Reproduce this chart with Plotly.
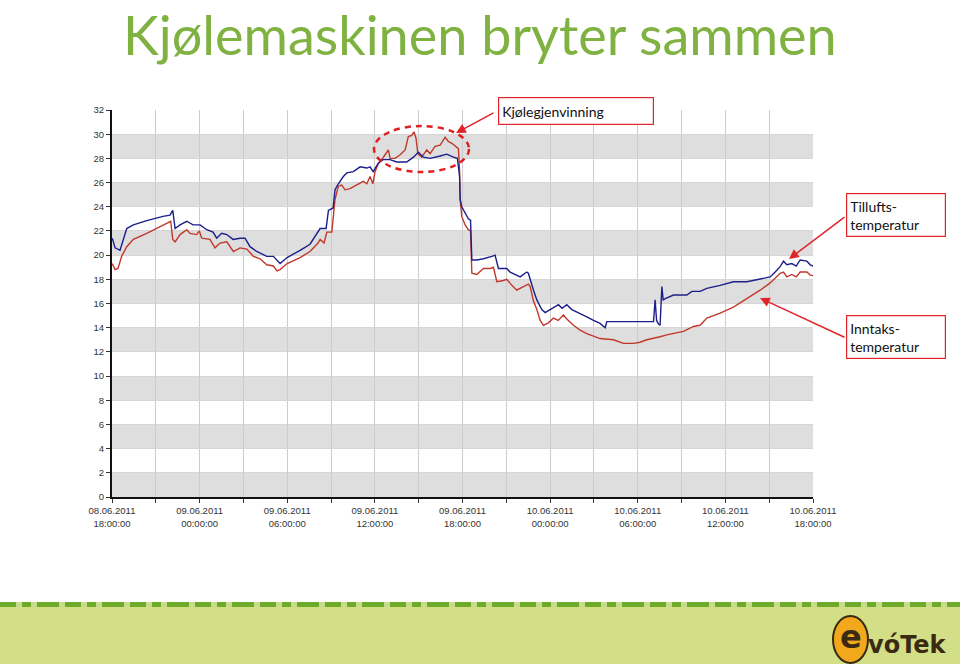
import pandas as pd
import plotly.graph_objects as go

# ---------------- data ----------------
start = "2011-06-08 18:00:00"

tilluft_h = [0.02, 0.21, 0.55, 1.01, 1.46, 2.38, 3.49, 3.97, 4.16, 4.32, 4.66, 5.12, 5.55, 6.03, 6.49,
             6.92, 7.17, 7.51, 7.86, 8.29, 8.77, 9.11, 9.45, 9.91, 10.60, 11.05, 11.51, 11.99, 12.88,
             13.56, 14.25, 14.66, 14.82, 15.14, 15.27, 15.50, 15.84, 16.08, 16.53, 16.99, 17.45, 17.67,
             17.88, 18.24, 18.56, 19.04, 19.50, 20.18, 20.64, 20.98, 21.32, 21.78, 22.47, 22.92, 23.38,
             23.65, 23.80, 23.84, 23.95, 24.18, 24.40, 24.55, 24.64, 24.98, 25.43, 26.01, 26.23, 26.46,
             27.03, 27.26, 27.72, 27.95, 28.40, 28.51, 28.86, 29.09, 29.43, 29.66, 30.00, 30.34, 30.57,
             30.82, 31.14, 31.49, 32.05, 32.51, 32.97, 33.42, 33.77, 33.88, 34.79, 35.71, 36.62, 37.08,
             37.19, 37.29, 37.42, 37.53, 37.65, 37.74, 37.88, 38.45, 39.36, 39.71, 40.27, 40.73, 41.64,
             42.55, 43.47, 44.38, 45.07, 45.41, 45.75, 45.98, 46.21, 46.55, 46.85, 47.12, 47.58, 47.81,
             48.0]
tilluft_v = [21.4, 20.6, 20.4, 22.2, 22.5, 22.85, 23.2, 23.3, 23.7, 22.2, 22.5, 22.8, 22.5, 22.5, 22.1,
             21.9, 21.4, 21.8, 21.7, 21.3, 21.4, 21.4, 20.7, 20.3, 19.9, 19.9, 19.3, 19.8, 20.4,
             20.9, 22.2, 22.2, 23.7, 23.9, 25.4, 25.9, 26.5, 26.8, 26.9, 27.3, 27.2, 27.3,
             26.9, 27.6, 27.9, 27.9, 27.7, 27.7, 28.1, 28.5, 28.1, 28.0, 28.2, 28.35, 28.1,
             28.0, 26.5, 24.6, 24.0, 23.5, 23.0, 22.9, 19.6, 19.6, 19.7, 19.9, 20.0, 18.9,
             18.9, 18.6, 18.35, 18.2, 18.6, 18.5, 17.1, 16.3, 15.5, 15.25, 15.5, 15.7, 15.9,
             15.6, 15.9, 15.5, 15.2, 14.9, 14.6, 14.35, 14.0, 14.5, 14.5, 14.5, 14.55, 14.5,
             16.3, 14.6, 14.3, 14.2, 17.4, 16.3, 16.4, 16.7, 16.7, 17.0, 17.0, 17.25, 17.5,
             17.8, 17.8, 18.0, 18.2, 18.6, 19.05, 19.5, 19.2, 19.3, 19.1, 19.6, 19.5, 19.2,
             19.1]

inntak_h = [0.02, 0.21, 0.41, 0.66, 1.01, 1.46, 2.38, 3.49, 4.02, 4.16, 4.32, 4.66, 5.12, 5.34, 5.80,
            5.98, 6.14, 6.71, 7.05, 7.40, 7.86, 8.31, 8.77, 9.23, 9.68, 10.14, 10.60, 11.05, 11.30,
            11.51, 11.99, 12.88, 13.56, 14.11, 14.25, 14.52, 14.71, 15.05, 15.27, 15.50, 15.73, 15.96,
            16.30, 16.76, 17.21, 17.45, 17.67, 17.86, 18.01, 18.24, 18.47, 18.70, 18.92, 19.04, 19.38,
            19.73, 20.07, 20.29, 20.53, 20.68, 20.82, 20.94, 21.21, 21.55, 21.78, 22.12, 22.47, 22.81,
            23.03, 23.27, 23.49, 23.72, 23.80, 23.84, 23.95, 24.18, 24.40, 24.55, 24.64, 24.98, 25.43,
            25.89, 26.12, 26.35, 26.80, 27.03, 27.38, 27.72, 28.01, 28.40, 28.51, 28.63, 28.86, 29.09,
            29.32, 29.54, 29.88, 30.23, 30.55, 30.91, 31.16, 31.60, 32.05, 32.51, 33.42, 34.34, 35.02,
            35.71, 36.16, 36.62, 37.08, 37.53, 37.99, 38.45, 39.13, 39.82, 40.27, 40.73, 41.64, 42.55,
            43.47, 44.38, 45.07, 45.41, 45.75, 45.98, 46.21, 46.55, 46.85, 47.12, 47.58, 47.81, 48.0]
inntak_v = [19.3, 18.8, 18.9, 19.9, 20.7, 21.3, 21.8, 22.5, 22.8, 21.3, 21.1, 21.7, 22.1, 21.8, 21.7,
            22.0, 21.4, 21.3, 20.6, 21.0, 21.1, 20.3, 20.6, 20.5, 19.9, 19.7, 19.2, 19.1, 18.7,
            18.8, 19.3, 19.8, 20.3, 21.0, 21.3, 21.0, 21.9, 21.9, 24.6, 25.7, 25.8, 25.4,
            25.5, 25.8, 26.1, 25.9, 26.5, 25.9, 26.9, 27.6, 27.9, 28.3, 28.7, 28.0, 28.0,
            28.3, 28.7, 29.8, 29.9, 30.2, 29.65, 28.4, 28.1, 28.7, 28.4, 29.0, 29.1, 29.75,
            29.4, 29.25, 29.0, 28.8, 27.0, 24.6, 23.2, 22.5, 22.1, 22.0, 18.5, 18.4, 18.9,
            18.9, 19.0, 17.8, 17.9, 18.0, 17.5, 17.1, 17.3, 17.5, 17.6, 17.4, 16.2, 15.5,
            14.6, 14.2, 14.4, 14.8, 14.6, 15.05, 14.7, 14.2, 13.8, 13.5, 13.1, 13.0, 12.7,
            12.7, 12.8, 13.0, 13.1, 13.25, 13.4, 13.5, 13.7, 14.1, 14.2, 14.8, 15.2, 15.7,
            16.4, 17.1, 17.7, 18.1, 18.5, 18.6, 18.2, 18.4, 18.2, 18.6, 18.6, 18.35, 18.3]

band_lows = [0, 4, 8, 12, 16, 20, 24, 28]
band_height = 2
y_range = [0, 32]
title_text = "Kjølemaskinen bryter sammen"
label_top = "Kjølegjenvinning"
label_tilluft = "Tillufts-<br>temperatur"
label_inntak = "Inntaks-<br>temperatur"

# ---------------- figure ----------------
t0 = pd.Timestamp(start)
tx_blue = t0 + pd.to_timedelta(tilluft_h, unit="h")
tx_red = t0 + pd.to_timedelta(inntak_h, unit="h")
t_end = t0 + pd.Timedelta(hours=48)

W, H = 960, 664
ML, MR, MT, MB = 112, 147, 110, 167
PW, PH = W - ML - MR, H - MT - MB


def px(x):
    return (x - ML) / PW


def py(y):
    return (H - MB - y) / PH


fig = go.Figure()
fig.add_trace(go.Scatter(x=tx_red, y=inntak_v, mode="lines", name="Inntak",
                         line=dict(color="#c0392b", width=1.4)))
fig.add_trace(go.Scatter(x=tx_blue, y=tilluft_v, mode="lines", name="Tilluft",
                         line=dict(color="#1c1f8a", width=1.4)))

shapes = []
for lo in band_lows:
    shapes.append(dict(type="rect", xref="paper", yref="y", x0=0, x1=1, y0=lo, y1=lo + band_height,
                       fillcolor="#dedede", line=dict(width=0), layer="below"))
# dashed ellipse
shapes.append(dict(type="circle", xref="paper", yref="paper", x0=px(374), x1=px(469), y0=py(172), y1=py(126),
                   line=dict(color="#e02020", width=2.5, dash="6px,5px")))
# footer band
shapes.append(dict(type="rect", xref="paper", yref="paper", x0=px(0), x1=px(960), y0=py(664), y1=py(607),
                   fillcolor="#d3df86", line=dict(width=0), layer="below"))
shapes.append(dict(type="line", xref="paper", yref="paper", x0=px(0), x1=px(960), y0=py(604.5), y1=py(604.5),
                   line=dict(color="#c5dd8a", width=5), layer="below"))
shapes.append(dict(type="line", xref="paper", yref="paper", x0=px(0), x1=px(960), y0=py(604.5), y1=py(604.5),
                   line=dict(color="#6fab2a", width=5, dash="16px,6px,9px,6px,22px,6px"), layer="below"))
# logo circle
shapes.append(dict(type="circle", xref="paper", yref="paper", x0=px(833), x1=px(868), y0=py(663), y1=py(616),
                   fillcolor="#f2a81d", line=dict(color="#3b2a12", width=2)))

annotations = []
annotations.append(dict(text=title_text, xref="paper", yref="paper", x=px(480), y=py(0),
                        xanchor="center", yanchor="top", showarrow=False,
                        font=dict(family="Lato", size=54, color="#7fb241")))


def box(text, cx, cy, w, h):
    return dict(text=text, xref="paper", yref="paper", x=px(cx), y=py(cy), xanchor="center", yanchor="middle",
                showarrow=False, align="left", width=w, height=h, bgcolor="white",
                bordercolor="#e0242a", borderwidth=1.2, borderpad=3,
                font=dict(family="Lato", size=14, color="#111"))


def arrow(x0, y0, x1, y1):
    return dict(text="", xref="paper", yref="paper", x=px(x1), y=py(y1), ax=x0 - x1, ay=y0 - y1,
                axref="pixel", ayref="pixel", showarrow=True, arrowhead=2, arrowsize=1.3, arrowwidth=1.5,
                arrowcolor="#e0242a", standoff=0)


annotations.append(box(label_top, 575.5, 111, 148, 20))
annotations.append(box(label_tilluft, 896, 214.5, 92, 36))
annotations.append(box(label_inntak, 896, 336.5, 92, 36))
annotations.append(arrow(495, 112, 456, 133))
annotations.append(arrow(846, 216, 789, 259))
annotations.append(arrow(846, 338, 760, 298))
annotations.append(dict(text="<b>e</b>", xref="paper", yref="paper", x=px(851), y=py(637), xanchor="center",
                        yanchor="middle", showarrow=False,
                        font=dict(family="DejaVu Sans", size=32, color="#3b2a12")))
annotations.append(dict(text="<b>vóTek</b>", xref="paper", yref="paper", x=px(866), y=py(645), xanchor="left",
                        yanchor="middle", showarrow=False,
                        font=dict(family="DejaVu Sans", size=24, color="#3b2a12")))

fig.update_layout(
    width=W, height=H, margin=dict(l=ML, r=MR, t=MT, b=MB, pad=0),
    paper_bgcolor="white", plot_bgcolor="white", showlegend=False,
    shapes=shapes, annotations=annotations,
    xaxis=dict(type="date", range=[t0, t_end], tick0=t0, dtick=6 * 3600 * 1000,
               tickformat="%d.%m.%Y<br>%H:%M:%S", ticks="outside", ticklen=4, tickcolor="#333",
               tickfont=dict(family="Liberation Sans", size=9.5, color="#333"),
               showgrid=True, gridcolor="#cccccc", gridwidth=1,
               minor=dict(dtick=3 * 3600 * 1000, showgrid=True, gridcolor="#cccccc", ticks="outside",
                          ticklen=4, tickcolor="#333"),
               showline=True, linecolor="#111", linewidth=2, zeroline=False, fixedrange=True),
    yaxis=dict(range=y_range, dtick=2, ticks="outside", ticklen=4, tickcolor="#333",
               tickfont=dict(family="Liberation Sans", size=9.5, color="#333"),
               showgrid=True, gridcolor="#d6d6d6", showline=True, linecolor="#111", linewidth=2,
               zeroline=False, fixedrange=True),
)

fig.write_html("out.html")
